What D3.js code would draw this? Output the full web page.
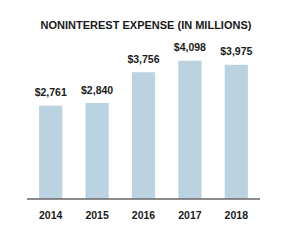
<!DOCTYPE html>
<html>
<head>
<meta charset="utf-8">
<script src="https://cdn.jsdelivr.net/npm/d3@7"></script>
<style>
  body { margin: 0; background: #fff; }
  text { font-family: "Liberation Sans", Arial, sans-serif; font-weight: bold; fill: #1a1a1a; }
</style>
</head>
<body>
<div id="chart"></div>
<script>
var years = ["2014", "2015", "2016", "2017", "2018"];
var expense = [2761, 2840, 3756, 4098, 3975];
var title = "NONINTEREST EXPENSE (IN MILLIONS)";

var width = 293, height = 246;
var margin = {top: 60, right: 33, bottom: 47.5, left: 27};

var svg = d3.select("#chart").append("svg")
    .attr("width", width)
    .attr("height", height);

var x = d3.scaleBand()
    .domain(years)
    .range([margin.left + 0.5, width - margin.right - 0.5])
    .paddingInner(0.5)
    .paddingOuter(0.25);

var y = d3.scaleLinear()
    .domain([0, 4098])
    .range([height - margin.bottom, height - margin.bottom - 137.8]);

svg.append("text")
    .attr("x", 146)
    .attr("y", 28.5)
    .attr("text-anchor", "middle")
    .style("font-size", "11px")
    .text(title);

svg.selectAll("rect.bar")
  .data(expense)
  .enter().append("rect")
    .attr("class", "bar")
    .attr("x", function(d, i) { return x(years[i]); })
    .attr("width", x.bandwidth())
    .attr("y", function(d) { return y(d); })
    .attr("height", function(d) { return y(0) - y(d); })
    .style("fill", "#bbd3e0");

svg.selectAll("text.val")
  .data(expense)
  .enter().append("text")
    .attr("class", "val")
    .attr("x", function(d, i) { return x(years[i]) + x.bandwidth() / 2; })
    .attr("y", function(d) { return y(d) - 9.5; })
    .attr("text-anchor", "middle")
    .style("font-size", "10.5px")
    .text(function(d) { return "$" + d3.format(",")(d); });

// baseline
svg.append("line")
    .attr("x1", margin.left)
    .attr("x2", width - margin.right)
    .attr("y1", y(0) + 0.5)
    .attr("y2", y(0) + 0.5)
    .style("stroke", "#1a1a1a")
    .style("stroke-width", 1);

svg.selectAll("text.year")
  .data(years)
  .enter().append("text")
    .attr("class", "year")
    .attr("x", function(d) { return x(d) + x.bandwidth() / 2; })
    .attr("y", 219)
    .attr("text-anchor", "middle")
    .style("font-size", "10.5px")
    .text(function(d) { return d; });
</script>
</body>
</html>
